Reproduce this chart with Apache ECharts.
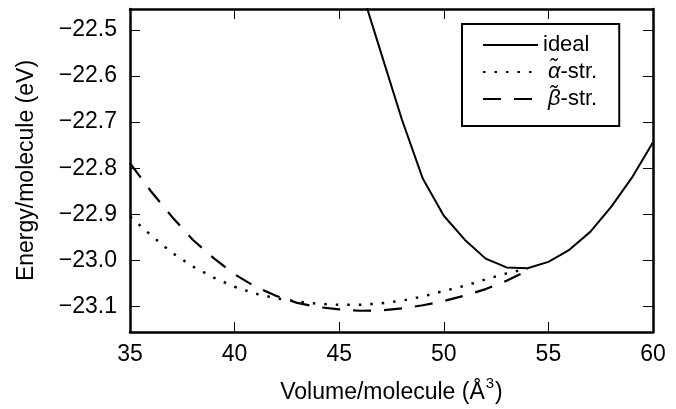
<!DOCTYPE html>
<html>
<head>
<meta charset="UTF-8">
<script src="https://cdn.jsdelivr.net/npm/echarts@6/dist/echarts.min.js"></script>
<style>
  html, body { margin: 0; padding: 0; background: #fff; }
  #chart { width: 676px; height: 409px; }
</style>
</head>
<body>
<div id="chart"></div>
<script>
// ideal structure
var idealVol = [46, 47, 48, 49, 50, 51, 52, 53, 54, 55, 56, 57, 58, 59, 60];
var idealE = [-22.405, -22.55, -22.695, -22.823, -22.903, -22.955, -22.996, -23.015, -23.017, -23.003, -22.977, -22.938, -22.884, -22.82, -22.744];
// alpha / beta strained, same volumes
var strVol = [35, 36, 37, 38, 39, 40, 41, 42, 43, 44, 45, 46, 47, 48, 49, 50, 51, 52, 53, 54];
var alphaE = [-22.905, -22.945, -22.983, -23.013, -23.037, -23.057, -23.072, -23.082, -23.089, -23.094,
              -23.096, -23.096, -23.093, -23.087, -23.078, -23.066, -23.055, -23.041, -23.028, -23.018];
var betaE = [-22.789, -22.85, -22.905, -22.955, -22.995, -23.03, -23.057, -23.077, -23.092, -23.101,
             -23.106, -23.109, -23.108, -23.104, -23.097, -23.088, -23.076, -23.062, -23.044, -23.022];
var names = ['ideal', '\u03b1\u0303-str.', '\u03b2\u0303-str.'];

function pairs(xs, ys) {
    var out = [];
    for (var i = 0; i < xs.length; i++) out.push([xs[i], ys[i]]);
    return out;
}

var font = 'Liberation Sans';
var chart = echarts.init(document.getElementById('chart'));

var frame = {lineStyle: {color: '#000', width: 2.5}};
var tick = {inside: true, length: 10, lineStyle: {color: '#000', width: 1}};

var option = {
    animation: false,
    color: ['#000', '#000', '#000'],
    grid: {left: 130, top: 9, right: 23, bottom: 77},
    legend: {
        orient: 'vertical',
        left: 462,
        top: 24,
        padding: [10, 22, 16, 20],
        itemGap: 5,
        itemWidth: 55,
        itemHeight: 14,
        itemStyle: {opacity: 0},
        borderColor: '#000',
        borderWidth: 2,
        borderRadius: 0,
        backgroundColor: '#fff',
        data: names,
        formatter: function (n) {
            if (n === 'ideal') return '{t|ideal}';
            return '{g|' + n.slice(0, 2) + '}{t|' + n.slice(2) + '}';
        },
        textStyle: {
            fontFamily: font, fontSize: 22, color: '#000',
            rich: {
                t: {fontFamily: font, fontSize: 22, color: '#000'},
                g: {fontFamily: font, fontSize: 22, color: '#000', fontStyle: 'italic', padding: [0, 0, 0, 5]}
            }
        }
    },
    xAxis: [{
        type: 'value', min: 35, max: 60, interval: 5,
        name: '{t|Volume/molecule (\u00c5}{s|3}{t|)}', nameLocation: 'middle', nameGap: 44,
        nameTextStyle: {
            fontFamily: font, fontSize: 23, color: '#000',
            rich: {
                t: {fontFamily: font, fontSize: 23, color: '#000', verticalAlign: 'bottom', lineHeight: 28},
                s: {fontFamily: font, fontSize: 15, color: '#000', verticalAlign: 'top', lineHeight: 28, padding: [0, 1, 0, 1]}
            }
        },
        axisLine: frame, axisTick: tick, splitLine: {show: false},
        axisLabel: {fontFamily: font, fontSize: 23, color: '#000', margin: 11}
    }, {
        type: 'value', position: 'top', min: 35, max: 60, interval: 5,
        axisLine: frame, axisTick: tick, splitLine: {show: false}, axisLabel: {show: false}
    }],
    yAxis: [{
        type: 'value', min: -23.155, max: -22.455, splitNumber: 7,
        name: 'Energy/molecule (eV)', nameLocation: 'middle', nameGap: 92,
        nameTextStyle: {fontFamily: font, fontSize: 23, color: '#000'},
        axisLine: frame, axisTick: tick, splitLine: {show: false},
        axisLabel: {
            fontFamily: font, fontSize: 23, color: '#000', margin: 13,
            showMinLabel: false, showMaxLabel: false,
            formatter: function (v) { return v.toFixed(1).replace('-', '\u2212'); }
        }
    }, {
        type: 'value', position: 'right', min: -23.155, max: -22.455, splitNumber: 7,
        axisLine: frame, axisTick: tick, splitLine: {show: false}, axisLabel: {show: false}
    }],
    series: [{
        name: names[0], type: 'line', symbol: 'none',
        data: pairs(idealVol, idealE),
        itemStyle: {color: '#000'},
        lineStyle: {color: '#000', width: 2}
    }, {
        name: names[1], type: 'line', symbol: 'none',
        data: pairs(strVol, alphaE),
        itemStyle: {color: '#000'},
        lineStyle: {color: '#000', width: 2.5, type: [2.5, 9]}
    }, {
        name: names[2], type: 'line', symbol: 'none',
        data: pairs(strVol, betaE),
        itemStyle: {color: '#000'},
        lineStyle: {color: '#000', width: 2.2, type: [18, 13]}
    }]
};
chart.setOption(option);
</script>
</body>
</html>
